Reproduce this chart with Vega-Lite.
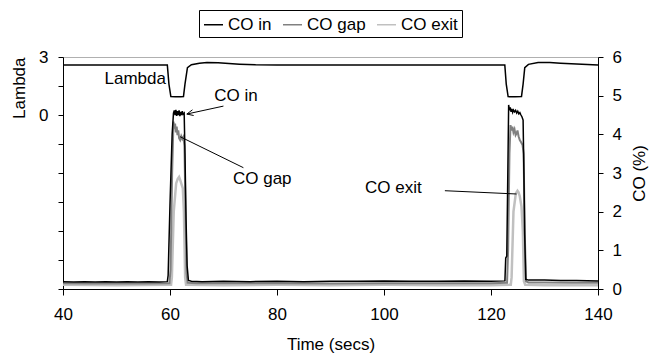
{
  "$schema": "https://vega.github.io/schema/vega-lite/v6.json",
  "width": 535,
  "height": 232,
  "autosize": "none",
  "padding": {"left": 63, "top": 57, "right": 51, "bottom": 67},
  "background": "white",
  "datasets": {
    "co": [
      {"s": "CO exit", "t": 40, "v": 0.11}, {"s": "CO exit", "t": 50, "v": 0.1}, {"s": "CO exit", "t": 60.2, "v": 0.11},
      {"s": "CO exit", "t": 60.35, "v": 0.3}, {"s": "CO exit", "t": 60.7, "v": 2.0}, {"s": "CO exit", "t": 61.15, "v": 2.73},
      {"s": "CO exit", "t": 61.45, "v": 2.85}, {"s": "CO exit", "t": 61.7, "v": 2.9}, {"s": "CO exit", "t": 61.9, "v": 2.82},
      {"s": "CO exit", "t": 62.1, "v": 2.73}, {"s": "CO exit", "t": 62.4, "v": 2.6}, {"s": "CO exit", "t": 62.6, "v": 2.0},
      {"s": "CO exit", "t": 62.83, "v": 0.3}, {"s": "CO exit", "t": 63.0, "v": 0.11}, {"s": "CO exit", "t": 70, "v": 0.1},
      {"s": "CO exit", "t": 80, "v": 0.11}, {"s": "CO exit", "t": 90, "v": 0.1}, {"s": "CO exit", "t": 100, "v": 0.11},
      {"s": "CO exit", "t": 110, "v": 0.1}, {"s": "CO exit", "t": 120, "v": 0.1}, {"s": "CO exit", "t": 123.7, "v": 0.11},
      {"s": "CO exit", "t": 123.85, "v": 0.3}, {"s": "CO exit", "t": 124.2, "v": 2.0}, {"s": "CO exit", "t": 124.64, "v": 2.47},
      {"s": "CO exit", "t": 124.95, "v": 2.54}, {"s": "CO exit", "t": 125.15, "v": 2.5}, {"s": "CO exit", "t": 125.38, "v": 2.4},
      {"s": "CO exit", "t": 125.7, "v": 2.13}, {"s": "CO exit", "t": 125.95, "v": 1.5}, {"s": "CO exit", "t": 126.15, "v": 0.2},
      {"s": "CO exit", "t": 126.4, "v": 0.11}, {"s": "CO exit", "t": 130, "v": 0.1}, {"s": "CO exit", "t": 140, "v": 0.1},

      {"s": "CO gap", "t": 40, "v": 0.15}, {"s": "CO gap", "t": 45, "v": 0.14}, {"s": "CO gap", "t": 50, "v": 0.15},
      {"s": "CO gap", "t": 55, "v": 0.14}, {"s": "CO gap", "t": 59.9, "v": 0.15}, {"s": "CO gap", "t": 60.1, "v": 0.5},
      {"s": "CO gap", "t": 60.4, "v": 3.0}, {"s": "CO gap", "t": 60.65, "v": 4.33}, {"s": "CO gap", "t": 60.8, "v": 4.15},
      {"s": "CO gap", "t": 60.95, "v": 4.28}, {"s": "CO gap", "t": 61.1, "v": 4.05}, {"s": "CO gap", "t": 61.25, "v": 4.2},
      {"s": "CO gap", "t": 61.4, "v": 3.98}, {"s": "CO gap", "t": 61.55, "v": 4.1}, {"s": "CO gap", "t": 61.7, "v": 3.9},
      {"s": "CO gap", "t": 61.9, "v": 3.85}, {"s": "CO gap", "t": 62.1, "v": 3.95}, {"s": "CO gap", "t": 62.3, "v": 3.88},
      {"s": "CO gap", "t": 62.5, "v": 3.93}, {"s": "CO gap", "t": 62.7, "v": 3.7}, {"s": "CO gap", "t": 62.9, "v": 2.0},
      {"s": "CO gap", "t": 63.1, "v": 0.4}, {"s": "CO gap", "t": 63.3, "v": 0.16}, {"s": "CO gap", "t": 65, "v": 0.15},
      {"s": "CO gap", "t": 70, "v": 0.15}, {"s": "CO gap", "t": 80, "v": 0.15}, {"s": "CO gap", "t": 90, "v": 0.14},
      {"s": "CO gap", "t": 100, "v": 0.15}, {"s": "CO gap", "t": 110, "v": 0.15}, {"s": "CO gap", "t": 120, "v": 0.15},
      {"s": "CO gap", "t": 123.0, "v": 0.16}, {"s": "CO gap", "t": 123.2, "v": 1.0}, {"s": "CO gap", "t": 123.45, "v": 3.5},
      {"s": "CO gap", "t": 123.65, "v": 4.24}, {"s": "CO gap", "t": 123.8, "v": 4.1}, {"s": "CO gap", "t": 124.0, "v": 4.2},
      {"s": "CO gap", "t": 124.2, "v": 4.05}, {"s": "CO gap", "t": 124.4, "v": 4.13}, {"s": "CO gap", "t": 124.6, "v": 3.98},
      {"s": "CO gap", "t": 124.76, "v": 4.02}, {"s": "CO gap", "t": 124.95, "v": 4.1}, {"s": "CO gap", "t": 125.15, "v": 3.95},
      {"s": "CO gap", "t": 125.38, "v": 3.85}, {"s": "CO gap", "t": 125.6, "v": 3.8}, {"s": "CO gap", "t": 125.9, "v": 3.72},
      {"s": "CO gap", "t": 126.1, "v": 3.5}, {"s": "CO gap", "t": 126.3, "v": 1.5}, {"s": "CO gap", "t": 126.55, "v": 0.2},
      {"s": "CO gap", "t": 127, "v": 0.17}, {"s": "CO gap", "t": 130, "v": 0.17}, {"s": "CO gap", "t": 135, "v": 0.16},
      {"s": "CO gap", "t": 140, "v": 0.16},

      {"s": "CO in", "t": 40, "v": 0.19}, {"s": "CO in", "t": 42, "v": 0.18}, {"s": "CO in", "t": 44, "v": 0.19},
      {"s": "CO in", "t": 46, "v": 0.18}, {"s": "CO in", "t": 48, "v": 0.19}, {"s": "CO in", "t": 50, "v": 0.18},
      {"s": "CO in", "t": 52, "v": 0.19}, {"s": "CO in", "t": 54, "v": 0.18}, {"s": "CO in", "t": 56, "v": 0.19},
      {"s": "CO in", "t": 58, "v": 0.18}, {"s": "CO in", "t": 59.5, "v": 0.19}, {"s": "CO in", "t": 59.65, "v": 0.35},
      {"s": "CO in", "t": 60.0, "v": 2.2}, {"s": "CO in", "t": 60.4, "v": 4.0}, {"s": "CO in", "t": 60.65, "v": 4.55},
      {"s": "CO in", "t": 60.8, "v": 4.62}, {"s": "CO in", "t": 60.95, "v": 4.5}, {"s": "CO in", "t": 61.1, "v": 4.63},
      {"s": "CO in", "t": 61.25, "v": 4.48}, {"s": "CO in", "t": 61.4, "v": 4.6}, {"s": "CO in", "t": 61.55, "v": 4.5},
      {"s": "CO in", "t": 61.7, "v": 4.62}, {"s": "CO in", "t": 61.85, "v": 4.47}, {"s": "CO in", "t": 62.0, "v": 4.58},
      {"s": "CO in", "t": 62.15, "v": 4.5}, {"s": "CO in", "t": 62.3, "v": 4.6}, {"s": "CO in", "t": 62.45, "v": 4.52},
      {"s": "CO in", "t": 62.65, "v": 4.55}, {"s": "CO in", "t": 62.8, "v": 3.5}, {"s": "CO in", "t": 63.0, "v": 1.8},
      {"s": "CO in", "t": 63.2, "v": 0.6}, {"s": "CO in", "t": 63.45, "v": 0.22}, {"s": "CO in", "t": 64, "v": 0.2},
      {"s": "CO in", "t": 66, "v": 0.19}, {"s": "CO in", "t": 70, "v": 0.2}, {"s": "CO in", "t": 75, "v": 0.19},
      {"s": "CO in", "t": 80, "v": 0.2}, {"s": "CO in", "t": 85, "v": 0.19}, {"s": "CO in", "t": 90, "v": 0.2},
      {"s": "CO in", "t": 95, "v": 0.2}, {"s": "CO in", "t": 100, "v": 0.21}, {"s": "CO in", "t": 105, "v": 0.2},
      {"s": "CO in", "t": 110, "v": 0.2}, {"s": "CO in", "t": 115, "v": 0.21}, {"s": "CO in", "t": 120, "v": 0.2},
      {"s": "CO in", "t": 122.6, "v": 0.21}, {"s": "CO in", "t": 122.75, "v": 0.8}, {"s": "CO in", "t": 122.95, "v": 0.85},
      {"s": "CO in", "t": 123.1, "v": 2.5}, {"s": "CO in", "t": 123.3, "v": 4.76}, {"s": "CO in", "t": 123.45, "v": 4.62},
      {"s": "CO in", "t": 123.6, "v": 4.7}, {"s": "CO in", "t": 123.75, "v": 4.58}, {"s": "CO in", "t": 123.9, "v": 4.66},
      {"s": "CO in", "t": 124.05, "v": 4.57}, {"s": "CO in", "t": 124.2, "v": 4.63}, {"s": "CO in", "t": 124.4, "v": 4.58},
      {"s": "CO in", "t": 124.6, "v": 4.62}, {"s": "CO in", "t": 124.8, "v": 4.55}, {"s": "CO in", "t": 125.0, "v": 4.6},
      {"s": "CO in", "t": 125.2, "v": 4.53}, {"s": "CO in", "t": 125.4, "v": 4.56}, {"s": "CO in", "t": 125.6, "v": 4.5},
      {"s": "CO in", "t": 125.8, "v": 4.45}, {"s": "CO in", "t": 126.0, "v": 4.37}, {"s": "CO in", "t": 126.15, "v": 3.0},
      {"s": "CO in", "t": 126.3, "v": 1.4}, {"s": "CO in", "t": 126.5, "v": 0.25}, {"s": "CO in", "t": 127, "v": 0.23},
      {"s": "CO in", "t": 130, "v": 0.23}, {"s": "CO in", "t": 133, "v": 0.22}, {"s": "CO in", "t": 136, "v": 0.22},
      {"s": "CO in", "t": 140, "v": 0.21}
    ],
    "lambda": [
      {"t": 40, "lambda": 2.59}, {"t": 50, "lambda": 2.59}, {"t": 59.5, "lambda": 2.59}, {"t": 59.8, "lambda": 1.6},
      {"t": 60.16, "lambda": 0.95}, {"t": 61, "lambda": 0.94}, {"t": 62, "lambda": 0.95}, {"t": 62.52, "lambda": 0.96},
      {"t": 62.8, "lambda": 1.6}, {"t": 63.26, "lambda": 2.45}, {"t": 64, "lambda": 2.6}, {"t": 65.5, "lambda": 2.68},
      {"t": 66.9, "lambda": 2.71}, {"t": 69, "lambda": 2.7}, {"t": 71, "lambda": 2.66}, {"t": 73, "lambda": 2.63},
      {"t": 76, "lambda": 2.6}, {"t": 80, "lambda": 2.59}, {"t": 100, "lambda": 2.59}, {"t": 122.58, "lambda": 2.59},
      {"t": 122.85, "lambda": 1.6}, {"t": 123.2, "lambda": 0.95}, {"t": 124.5, "lambda": 0.94}, {"t": 125.7, "lambda": 0.96},
      {"t": 126.0, "lambda": 1.6}, {"t": 126.31, "lambda": 2.45}, {"t": 127, "lambda": 2.62}, {"t": 128.8, "lambda": 2.71},
      {"t": 131, "lambda": 2.71}, {"t": 133, "lambda": 2.68}, {"t": 135, "lambda": 2.65}, {"t": 138, "lambda": 2.61},
      {"t": 140, "lambda": 2.59}
    ],
    "leaders": [
      {"t": 69.99, "v": 4.73, "t2": 63.15, "v2": 4.525},
      {"t": 63.15, "v": 4.525, "t2": 64.42, "v2": 4.487},
      {"t": 63.15, "v": 4.525, "t2": 64.2, "v2": 4.634},
      {"t": 73.72, "v": 3.137, "t2": 61.9, "v2": 3.938},
      {"t": 111.38, "v": 2.542, "t2": 124.77, "v2": 2.457}
    ],
    "labels": [
      {"t": 53.5, "v": 5.42, "text": "Lambda"},
      {"t": 72.35, "v": 4.98, "text": "CO in"},
      {"t": 77.25, "v": 2.84, "text": "CO gap"},
      {"t": 101.74, "v": 2.6, "text": "CO exit"}
    ]
  },
  "encoding": {
    "x": {
      "field": "t", "type": "quantitative",
      "scale": {"domain": [40, 140], "nice": false, "zero": false},
      "axis": {
        "values": [40, 60, 80, 100, 120, 140],
        "tickSize": 6, "labelPadding": 11,
        "title": "Time (secs)", "titleY": 60, "titleBaseline": "alphabetic"
      }
    }
  },
  "layer": [
    {
      "data": {"name": "lambda"},
      "mark": {"type": "line", "color": "#000000", "strokeWidth": 1.5},
      "encoding": {
        "y": {
          "field": "lambda", "type": "quantitative",
          "scale": {"domain": [-9, 3], "nice": false, "zero": false},
          "axis": {
            "orient": "left",
            "values": [3, 1.5, 0, -1.5, -3, -4.5, -6, -7.5, -9],
            "labelExpr": "datum.value == 3 || datum.value == 0 ? datum.label : ''",
            "tickSize": 5, "labelPadding": 10,
            "title": "Lambda", "titleAnchor": "end", "titlePadding": 10
          }
        }
      }
    },
    {
      "encoding": {
        "y": {
          "field": "v", "type": "quantitative",
          "scale": {"domain": [0, 6], "nice": false, "zero": false},
          "axis": {
            "orient": "right",
            "values": [0, 1, 2, 3, 4, 5, 6],
            "tickSize": 5, "labelPadding": 9,
            "title": "CO (%)", "titleX": 46.7, "titleY": 116, "titleAlign": "center",
            "titleAngle": 270, "titleBaseline": "alphabetic"
          }
        }
      },
      "layer": [
        {
          "data": {"name": "co"},
          "transform": [{"filter": "datum.s == 'CO exit'"}],
          "mark": {"type": "line", "strokeWidth": 2.5},
          "encoding": {
            "color": {"field": "s", "type": "nominal", "scale": {"domain": ["CO in", "CO gap", "CO exit"], "range": ["#000000", "#808080", "#c0c0c0"]}}
          }
        },
        {
          "data": {"name": "co"},
          "transform": [{"filter": "datum.s == 'CO gap'"}],
          "mark": {"type": "line", "strokeWidth": 2},
          "encoding": {
            "color": {"field": "s", "type": "nominal", "scale": {"domain": ["CO in", "CO gap", "CO exit"], "range": ["#000000", "#808080", "#c0c0c0"]}}
          }
        },
        {
          "data": {"name": "co"},
          "transform": [{"filter": "datum.s == 'CO in'"}],
          "mark": {"type": "line", "strokeWidth": 1.5},
          "encoding": {
            "color": {
              "field": "s", "type": "nominal",
              "scale": {"domain": ["CO in", "CO gap", "CO exit"], "range": ["#000000", "#808080", "#c0c0c0"]},
              "legend": {
                "title": null, "orient": "none", "legendX": 136, "legendY": -47,
                "direction": "horizontal", "symbolType": "stroke", "symbolSize": 361,
                "symbolStrokeWidth": 1.5, "labelFontSize": 17, "labelOffset": 4,
                "columnPadding": 8, "padding": 4, "strokeColor": "#000000", "labelColor": "#000000"
              }
            }
          }
        },
        {
          "data": {"name": "leaders"},
          "mark": {"type": "rule", "color": "#000000", "strokeWidth": 1},
          "encoding": {"x2": {"field": "t2"}, "y2": {"field": "v2"}}
        },
        {
          "data": {"name": "labels"},
          "mark": {"type": "text", "fontSize": 17, "font": "Liberation Sans", "color": "#000000", "baseline": "middle", "align": "center"},
          "encoding": {"text": {"field": "text", "type": "nominal"}}
        }
      ]
    }
  ],
  "resolve": {"scale": {"y": "independent"}},
  "config": {
    "font": "Liberation Sans",
    "view": {"stroke": "#b0b0b0"},
    "axis": {
      "grid": false, "domainColor": "#000000", "tickColor": "#000000",
      "labelColor": "#000000", "titleColor": "#000000",
      "labelFont": "Liberation Sans", "titleFont": "Liberation Sans",
      "labelFontSize": 17, "titleFontSize": 17, "titleFontWeight": "normal",
      "labelFlush": false, "labelOverlap": false
    },
    "legend": {"labelFont": "Liberation Sans"}
  }
}
